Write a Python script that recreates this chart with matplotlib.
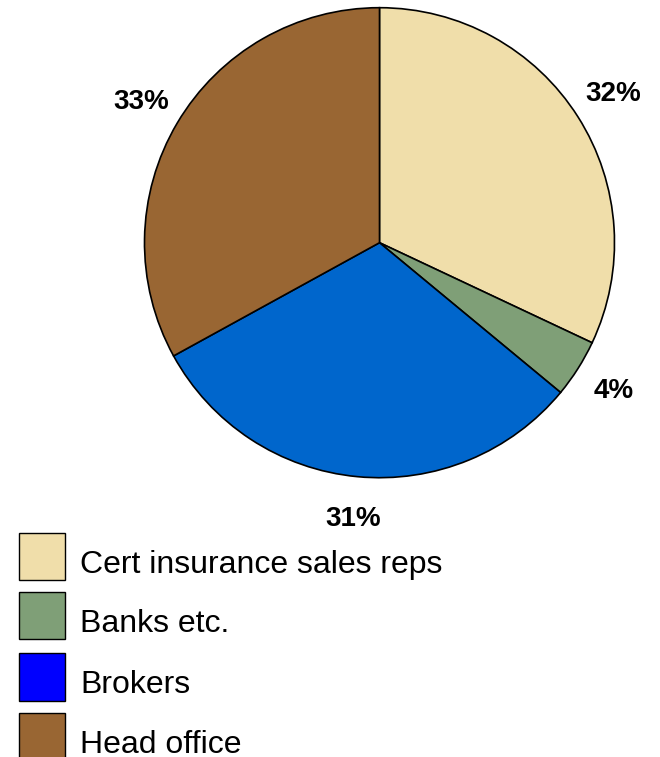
import matplotlib.pyplot as plt
from matplotlib.patches import Rectangle

plt.rcParams['font.family'] = ['Liberation Sans', 'DejaVu Sans']

channels = ['Cert insurance sales reps', 'Banks etc.', 'Brokers', 'Head office']
shares = [32, 4, 31, 33]
slice_colors = ['#F0DEAA', '#7F9F77', '#0066CC', '#996633']
legend_colors = ['#F0DEAA', '#7F9F77', '#0000FF', '#996633']

W, H = 660, 757
fig = plt.figure(figsize=(W / 100, H / 100), dpi=100)

# pie sits in a square axes, centre ~ (379.5, 242.7) px, radius 235 px
r_px = 235
cx, cy = 379.5, 242.7
ax = fig.add_axes([(cx - r_px) / W, (H - cy - r_px) / H, 2 * r_px / W, 2 * r_px / H])
wedges, texts, autotexts = ax.pie(
    shares, colors=slice_colors, startangle=90, counterclock=False,
    autopct='%d%%', pctdistance=1.18, radius=1,
    wedgeprops=dict(edgecolor='black', linewidth=1.2))
for t in autotexts:
    t.set_fontsize(20)
    t.set_fontweight('bold')
ax.set_xlim(-1, 1)
ax.set_ylim(-1, 1)
ax.set_aspect('equal')
ax.axis('off')

# legend drawn by hand in pixel rows
row_tops = [532.7, 591.7, 653.3, 712.7]
for top, label, color in zip(row_tops, channels, legend_colors):
    fig.add_artist(Rectangle((19 / W, (H - top - 47.5) / H), 46 / W, 47.5 / H,
                             transform=fig.transFigure, facecolor=color,
                             edgecolor='black', linewidth=1))
    fig.text(80 / W, (H - top - 40) / H, label, fontsize=23,
             va='baseline', ha='left')

fig.savefig('out.png', dpi=100)
